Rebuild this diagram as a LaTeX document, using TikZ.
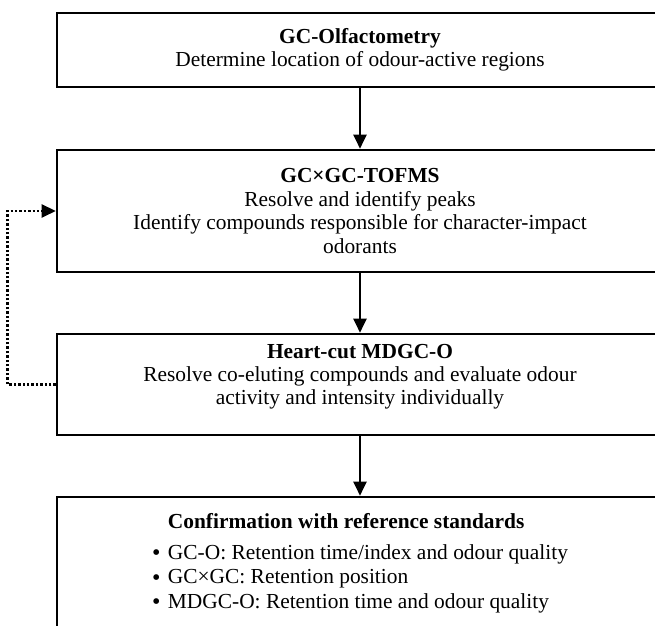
\documentclass[tikz,border=0pt]{standalone}
\usepackage{fontspec}
\setmainfont{Liberation Serif}
\usetikzlibrary{arrows.meta,positioning,calc}

\newcommand{\itemdot}{\raisebox{-0.15ex}{\large\textbullet}\hspace{0.35em}}

\begin{document}
\begin{tikzpicture}[x=0.5pt, y=-0.5pt, >={Triangle[length=7pt,width=6.5pt]},
    stagebox/.style={draw, line width=1.3pt, minimum width=303pt, inner sep=0pt,
      align=center, font=\fontsize{10.7}{11.7}\selectfont},
    flow/.style={->, line width=1pt},
    loopback/.style={->, line width=1.3pt, dash pattern=on 1.2pt off 1pt}]
        \useasboundingbox (0,0) rectangle (655,626);
        \clip (0,0) rectangle (655,626);
        % the four stages
        \node[stagebox, minimum height=37pt] (olf) at (360,50)
          {\textbf{GC-Olfactometry}\\Determine location of odour-active regions};
        \node[stagebox, minimum height=61pt] (tof) at (360,211)
          {\textbf{GC×GC-TOFMS}\\Resolve and identify peaks\\Identify compounds responsible for character-impact\\odorants};
        \node[stagebox, minimum height=50.5pt] (mdgc) at (360,384.5)
          {\textbf{Heart-cut MDGC-O}\\Resolve co-eluting compounds and evaluate odour\\activity and intensity individually\rule[-10pt]{0pt}{0pt}};
        \node[stagebox, minimum height=66.5pt] (conf) at (360,563.5)
          {\begin{tabular}{@{}l@{}}
             \phantom{\itemdot}\textbf{Confirmation with reference standards}\\[4pt]
             \itemdot GC-O: Retention time/index and odour quality\\[0.5pt]
             \itemdot GC×GC: Retention position\\[0.5pt]
             \itemdot MDGC-O: Retention time and odour quality
           \end{tabular}};
        % connectors
        \draw[flow] (olf) -- (tof);
        \draw[flow] (tof) -- (mdgc);
        \draw[flow] (mdgc) -- (conf);
        \draw[loopback] (mdgc.west) -- ++(-48,0) |- (tof.west);
      \end{tikzpicture}
\end{document}
